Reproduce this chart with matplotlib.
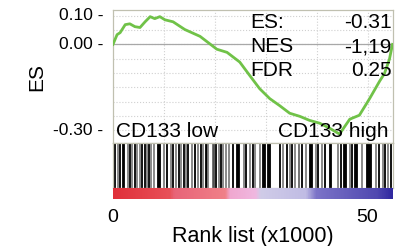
import numpy as np
import matplotlib
matplotlib.use("Agg")
import matplotlib.pyplot as plt
from matplotlib.colors import LinearSegmentedColormap

plt.rcParams['font.family'] = ['Liberation Sans', 'DejaVu Sans']

# Running enrichment score (rank in thousands, ES)
rank_k = [0, 0.8, 1.4, 2.4, 3.3, 4.3, 5.3, 6.3, 7.3, 8.2, 9.2, 10.2, 11.8, 14.1,
          17.1, 20.4, 22.4, 24.9, 26.9, 28.8, 30.8, 32.7, 34.7, 36.7, 38.6, 40.6,
          42.5, 44.5, 46.5, 48.4, 50.4, 52.4, 53.3, 54.3, 54.9]
es = [0.0, 0.034, 0.041, 0.069, 0.072, 0.062, 0.059, 0.079, 0.097, 0.090, 0.097,
      0.086, 0.079, 0.052, 0.028, -0.017, -0.028, -0.062, -0.110, -0.155, -0.190,
      -0.214, -0.241, -0.252, -0.266, -0.276, -0.293, -0.314, -0.262, -0.248,
      -0.190, -0.128, -0.103, -0.052, 0.0]

# Hit positions (thousands) and grey level (0 = black)
hits = [0.13, 0.46, 0.98, 1.37, 2.0, 2.2, 2.94, 3.4, 3.73, 4.25, 4.77, 5.29, 5.69,
        6.2, 6.6, 7.1, 7.5, 8.0, 8.8, 9.0, 9.2, 10.1, 10.65, 11.3, 11.8, 12.35,
        12.9, 13.4, 13.85, 14.3, 14.8, 15.5, 16.1, 16.7, 17.2, 17.6, 18.2, 18.4,
        18.7, 19.7, 19.9, 20.3, 20.8, 21.2, 21.6, 22.1, 22.7, 23.6, 24.4, 24.6,
        24.8, 25.7, 26.2, 26.9, 27.5, 27.9, 28.8, 29.4, 29.6, 29.8, 30.4, 30.6,
        30.9, 32.8, 33.4, 34.1, 34.7, 35.2, 35.8, 36.5, 36.6, 37.2, 37.9, 38.7,
        38.9, 39.1, 39.9, 40.3, 41.0, 41.6, 42.7, 42.9, 44.1, 44.8, 45.3, 45.5,
        45.7, 46.6, 47.0, 47.5, 47.7, 47.9, 49.0, 49.8, 50.0, 50.2, 50.4, 50.6,
        51.6, 52.3, 53.0, 53.4, 54.0, 54.7]
grey = [0.5, 0, 0.5, 0, 0, 0, 0.5, 0, 0.5, 0, 0.5, 0.5, 0, 0, 0.5, 0, 0.5, 0.5, 0,
        0, 0, 0.5, 0, 0.5, 0, 0.5, 0, 0.5, 0, 0.5, 0, 0.5, 0, 0.5, 0, 0.5, 0, 0,
        0.5, 0.4, 0.3, 0, 0.5, 0, 0.5, 0.5, 0.5, 0, 0, 0, 0, 0.5, 0, 0.5, 0, 0.5,
        0.5, 0, 0, 0, 0, 0, 0, 0, 0.5, 0, 0.5, 0, 0.5, 0, 0.5, 0, 0.5, 0, 0, 0,
        0.5, 0, 0.5, 0, 0, 0, 0.5, 0, 0, 0, 0, 0.5, 0, 0, 0, 0, 0.5, 0, 0, 0, 0,
        0, 0.5, 0, 0.5, 0, 0.5, 0]

# Colour bar stops (position in thousands, colour)
bar_pos = [0, 11, 12, 22, 23, 28, 29, 38, 40, 52, 55]
bar_col = ['#e0303a', '#e85058', '#e86478', '#f08088', '#f0a8d0', '#f0b8e0',
           '#d0cce8', '#c0bce4', '#7c74c8', '#5048b0', '#3028a0']

x_max = 55
y_ticks = [0.10, 0.00, -0.30]
y_ticklabels = ['0.10 -', '0.00 -', '-0.30 -']
x_ticks = [0, 50]
stats_names = ['ES:', 'NES', 'FDR']
stats_vals = ['-0.31', '-1,19', '0.25']

fig = plt.figure(figsize=(4.0, 2.46), dpi=100)
frame_col = '#c0c0b0'

ax = fig.add_axes([0.2825, 0.419, 0.70, 0.540])
ax.plot(rank_k, es, color='#70c248', lw=2.0, zorder=3)
ax.axhline(0, color='#a8a8a8', lw=0.9, zorder=2)
ax.set_xlim(0, x_max)
ax.set_ylim(-0.345, 0.12)
ax.set_xticks([10, 20, 30, 40, 50])
ax.set_yticks(np.arange(-0.3, 0.11, 0.05), minor=False)
ax.grid(True, color='#d0d0d0', lw=0.8, ls=':')
ax.tick_params(axis='both', length=0, labelbottom=False, labelleft=False)
for s in ax.spines.values():
    s.set_color(frame_col)
    s.set_linewidth(0.9)
for v, lab in zip(y_ticks, y_ticklabels):
    ax.text(-0.035, v, lab, transform=ax.get_yaxis_transform(), ha='right',
            va='center', fontsize=12.5)
ax.set_ylabel('ES', fontsize=15, labelpad=48)
for i, (n, v) in enumerate(zip(stats_names, stats_vals)):
    yy = 0.905 - i * 0.18
    ax.text(0.49, yy, n, transform=ax.transAxes, ha='left', va='center', fontsize=15)
    ax.text(0.995, yy, v, transform=ax.transAxes, ha='right', va='center', fontsize=15)
ax.text(0.012, 0.085, 'CD133 low', transform=ax.transAxes, ha='left', va='center', fontsize=15)
ax.text(0.985, 0.085, 'CD133 high', transform=ax.transAxes, ha='right', va='center', fontsize=15)

axb = fig.add_axes([0.2825, 0.236, 0.70, 0.183])
axb.vlines(hits, 0, 1, colors=[str(g) for g in grey], lw=1.3)
axb.set_xlim(0, x_max)
axb.set_ylim(0, 1)
axb.set_xticks([])
axb.set_yticks([])
for s in axb.spines.values():
    s.set_color(frame_col)
    s.set_linewidth(0.9)

axc = fig.add_axes([0.2825, 0.191, 0.70, 0.045])
cmap = LinearSegmentedColormap.from_list(
    'rb', [(p / x_max, c) for p, c in zip(bar_pos, bar_col)])
grad = np.linspace(0, 1, 400)[None, :]
axc.imshow(grad, aspect='auto', cmap=cmap, extent=[0, x_max, 0, 1])
axc.set_xlim(0, x_max)
axc.set_xticks(x_ticks)
axc.set_xticklabels([str(t) for t in x_ticks], fontsize=14)
axc.tick_params(axis='x', length=0, pad=7)
axc.set_yticks([])
for s in axc.spines.values():
    s.set_visible(False)
axc.set_xlabel('Rank list (x1000)', fontsize=15.5, labelpad=0)

fig.savefig('out.png', dpi=100)
